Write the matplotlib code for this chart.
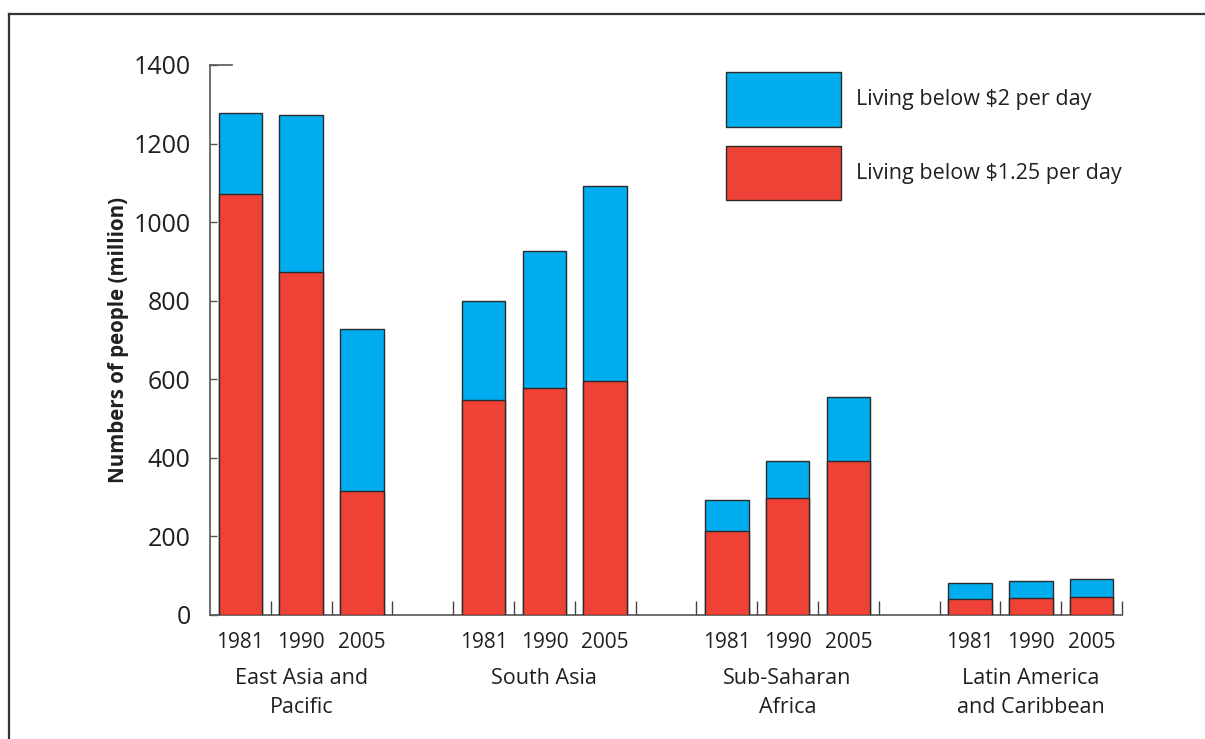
import matplotlib
matplotlib.use("Agg")
import matplotlib.pyplot as plt
from matplotlib.lines import Line2D
from matplotlib.patches import Patch
import numpy as np

regions = ["East Asia and\nPacific", "South Asia", "Sub-Saharan\nAfrica", "Latin America\nand Caribbean"]
years = ["1981", "1990", "2005"]
below_125 = [[1071, 873, 316], [548, 579, 596], [214, 299, 391], [42, 43, 47]]
below_2 = [[1278, 1274, 729], [799, 926, 1092], [294, 391, 556], [82, 86, 91]]
yticks = [0, 200, 400, 600, 800, 1000, 1200, 1400]

BLUE = "#00AEEF"
RED = "#EF4136"
EDGE = "#2b2b2b"
TXT = "#231f20"

plt.rcParams['font.family'] = ['Open Sans', 'DejaVu Sans']

fig = plt.figure(figsize=(12.05, 7.39), dpi=100)
W, H = 1205, 739
ax = fig.add_axes([210 / W, (H - 615) / H, 912 / W, 550 / H])

# frame around figure (top and left)
fig.add_artist(Line2D([9 / W, 1.0], [1 - 14 / H, 1 - 14 / H], color="#333333", lw=1.6))
fig.add_artist(Line2D([9 / W, 9 / W], [0, 1 - 14 / H], color="#333333", lw=1.6))

positions = []
labels = []
for g in range(len(regions)):
    for i in range(len(years)):
        positions.append(g * 4 + i)
        labels.append(years[i])
positions = np.array(positions)
red_vals = np.array(below_125).ravel()
tot_vals = np.array(below_2).ravel()

bw = 0.72
ax.bar(positions, tot_vals, width=bw, color=BLUE, edgecolor=EDGE, linewidth=1.0, zorder=2)
ax.bar(positions, red_vals, width=bw, color=RED, edgecolor=EDGE, linewidth=1.0, zorder=3)

ax.set_xlim(-0.5, 14.5)
ax.set_ylim(0, 1400)

for s in ["top", "right"]:
    ax.spines[s].set_visible(False)
for s in ["left", "bottom"]:
    ax.spines[s].set_color("#555555")
    ax.spines[s].set_linewidth(1.2)

# major ticks at slot boundaries, minor ticks carry year labels
ax.set_xticks(np.arange(0.5, 15, 1.0))
ax.set_xticklabels([])
ax.tick_params(axis="x", which="major", direction="in", length=10, width=1.0, color="#444444")
ax.set_xticks(positions, minor=True)
ax.set_xticklabels(labels, minor=True)
ax.tick_params(axis="x", which="minor", length=0, pad=12, labelsize=15, labelcolor=TXT)

ax.set_yticks(yticks)
ax.set_yticklabels([str(v) for v in yticks])
ax.tick_params(axis="y", direction="in", length=5, width=1.0, color="#555555",
               labelsize=18, labelcolor=TXT, pad=14)
ax.axhline(1400, xmin=0, xmax=22 / 912, color="#555555", lw=1.2, clip_on=False)

ax.set_ylabel("Numbers of people (million)", fontsize=14.8, fontweight="bold", color=TXT, labelpad=3)

for g, name in enumerate(regions):
    ax.text(g * 4 + 1, -0.097, name, transform=ax.get_xaxis_transform(), ha="center", va="top",
            fontsize=15.5, color=TXT, linespacing=1.5)

handles = [Patch(facecolor=BLUE, edgecolor=EDGE, lw=1.0, label="Living below $2 per day"),
           Patch(facecolor=RED, edgecolor=EDGE, lw=1.0, label="Living below $1.25 per day")]
ax.legend(handles=handles, loc="upper left", bbox_to_anchor=(503 / 912, 1.011), frameon=False,
          handlelength=5.33, handleheight=3.54, handletextpad=0.72, labelspacing=0.88,
          fontsize=15.5, labelcolor=TXT, borderaxespad=0.2)

fig.savefig("out.png", dpi=100)
